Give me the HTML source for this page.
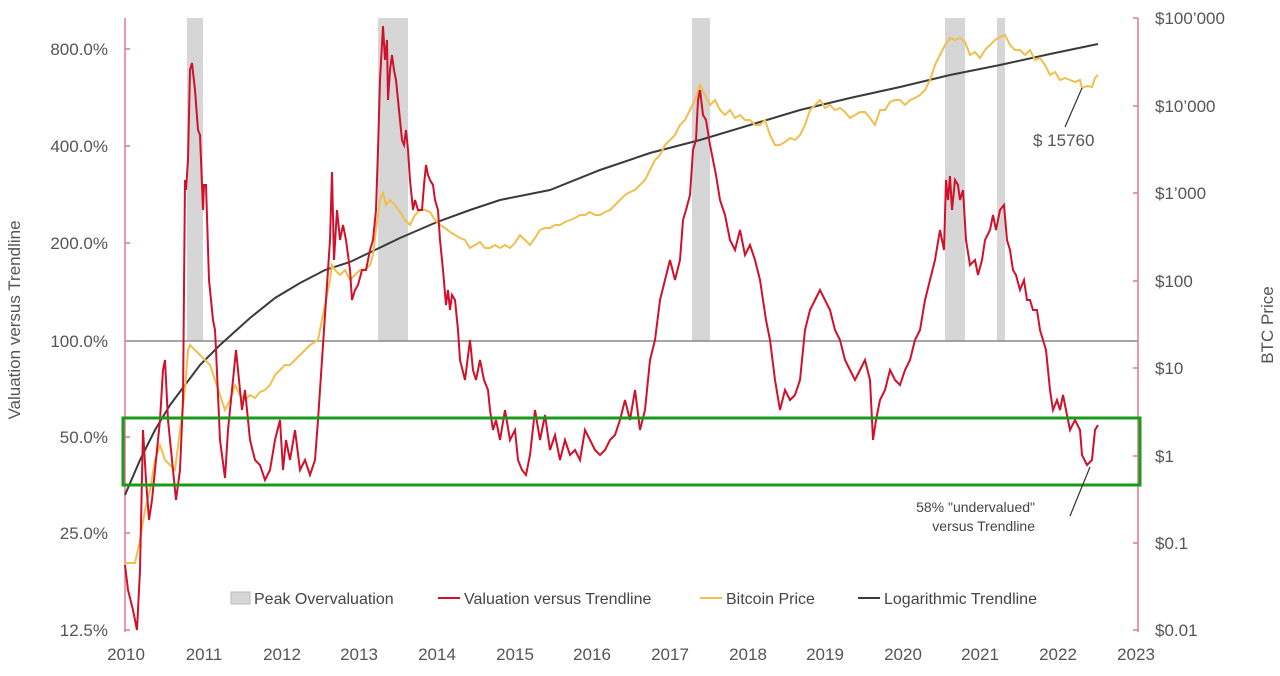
<!DOCTYPE html>
<html><head><meta charset="utf-8"><style>
body{margin:0;background:#fff}
svg{display:block;font-family:"Liberation Sans",sans-serif}
.t{fill:#555;font-size:17px}
.l{fill:#444;font-size:16px}
</style></head><body>
<svg width="1280" height="676" viewBox="0 0 1280 676">
<g fill="#d6d6d6">
<rect x="187" y="18" width="16" height="323"/>
<rect x="378" y="18" width="30" height="323"/>
<rect x="692" y="18" width="18" height="323"/>
<rect x="945" y="18" width="20" height="323"/>
<rect x="997" y="18" width="8" height="323"/>
</g>
<line x1="125" y1="341" x2="1138" y2="341" stroke="#888" stroke-width="1.5"/>
<g stroke="#e4788f" stroke-width="1.5">
<line x1="125" y1="18" x2="125" y2="632"/>
<line x1="1138" y1="18" x2="1138" y2="632"/>
<line x1="125" y1="49" x2="130" y2="49"/><line x1="125" y1="146" x2="130" y2="146"/><line x1="125" y1="243" x2="130" y2="243"/><line x1="125" y1="341" x2="130" y2="341"/><line x1="125" y1="437" x2="130" y2="437"/><line x1="125" y1="533" x2="130" y2="533"/><line x1="125" y1="630" x2="130" y2="630"/>
<line x1="1133" y1="18" x2="1138" y2="18"/><line x1="1133" y1="106" x2="1138" y2="106"/><line x1="1133" y1="193" x2="1138" y2="193"/><line x1="1133" y1="281" x2="1138" y2="281"/><line x1="1133" y1="368" x2="1138" y2="368"/><line x1="1133" y1="456" x2="1138" y2="456"/><line x1="1133" y1="543" x2="1138" y2="543"/><line x1="1133" y1="630" x2="1138" y2="630"/>
</g>
<g class="t" text-anchor="end">
<text x="108" y="55">800.0%</text><text x="108" y="152">400.0%</text><text x="108" y="249">200.0%</text><text x="108" y="347">100.0%</text><text x="108" y="443">50.0%</text><text x="108" y="539">25.0%</text><text x="108" y="636">12.5%</text>
</g>
<g class="t">
<text x="1155" y="24">$100’000</text><text x="1155" y="112">$10’000</text><text x="1155" y="199">$1’000</text><text x="1155" y="287">$100</text><text x="1155" y="374">$10</text><text x="1155" y="462">$1</text><text x="1155" y="549">$0.1</text><text x="1155" y="636">$0.01</text>
</g>
<g class="t" text-anchor="middle">
<text x="126" y="660">2010</text><text x="204" y="660">2011</text><text x="282" y="660">2012</text><text x="359" y="660">2013</text><text x="437" y="660">2014</text><text x="515" y="660">2015</text><text x="592" y="660">2016</text><text x="670" y="660">2017</text><text x="748" y="660">2018</text><text x="825" y="660">2019</text><text x="903" y="660">2020</text><text x="980" y="660">2021</text><text x="1058" y="660">2022</text><text x="1136" y="660">2023</text>
</g>
<text class="t" transform="translate(20,320) rotate(-90)" text-anchor="middle">Valuation versus Trendline</text>
<text class="t" transform="translate(1273,325) rotate(-90)" text-anchor="middle">BTC Price</text>
<polyline fill="none" stroke="#3a3a3a" stroke-width="2" points="125,495 140,460 155,430 170,405 185,385 200,365 220,345 250,318 275,298 300,283 325,270 350,262 375,250 400,238 437,222 470,210 500,200 550,190 600,170 650,153 700,140 750,125 800,110 850,98 900,87 950,75 1000,65 1050,54 1098,44"/>
<polyline fill="none" stroke="#efbf4f" stroke-width="2" points="125,563 135,563 140,540 145,510 150,490 155,460 160,445 165,460 170,465 175,470 180,430 185,390 188,350 190,345 195,350 200,355 205,360 210,365 215,380 220,395 225,410 230,400 235,385 240,395 245,400 250,395 255,398 260,392 265,390 270,385 275,375 280,370 285,365 290,365 300,355 310,345 318,340 322,320 326,300 330,280 332,265 335,270 340,275 345,270 350,280 355,275 360,270 365,270 370,265 373,255 376,230 380,200 383,193 386,205 390,200 395,205 400,212 405,220 410,225 415,215 420,210 425,210 430,212 435,220 440,225 445,228 450,232 455,235 460,238 465,240 470,248 475,245 480,242 485,248 490,248 495,245 500,248 505,245 510,248 515,243 520,235 525,240 530,245 535,238 540,230 545,228 550,228 555,225 560,225 565,222 570,220 575,218 580,215 585,215 590,212 595,215 600,215 605,212 610,210 615,205 620,200 625,195 630,192 635,190 640,185 645,180 650,170 655,160 660,155 665,145 670,140 675,135 680,125 685,120 690,110 695,100 700,85 705,95 710,105 715,100 720,110 725,115 730,110 735,118 740,115 745,120 750,120 755,125 760,125 765,120 770,135 775,145 780,145 785,142 790,138 795,140 800,135 805,125 810,110 815,105 820,100 825,108 830,105 835,110 840,108 845,112 850,118 855,115 860,112 865,112 870,118 875,125 880,110 885,110 890,102 895,100 900,100 905,105 910,100 915,98 920,95 925,90 930,80 935,65 940,55 945,45 950,38 955,40 960,38 965,42 970,55 975,52 980,58 985,50 990,45 995,40 1000,37 1005,35 1010,45 1015,50 1020,50 1025,55 1030,50 1035,60 1040,58 1045,65 1050,75 1055,72 1060,80 1065,78 1070,80 1075,82 1080,80 1082,88 1087,86 1092,87 1095,78 1098,75"/>
<polyline fill="none" stroke="#d0112b" stroke-width="2" points="125,565 128,590 133,610 137,630 140,570 143,430 146,480 149,520 152,500 156,460 160,420 163,370 165,360 168,420 172,460 176,500 180,470 183,400 185,180 186,190 188,160 190,70 192,63 195,90 198,130 200,135 203,210 204,185 206,185 209,280 212,310 213,320 215,330 216,350 220,440 225,478 228,430 233,380 236,350 238,370 242,410 245,390 250,440 255,460 260,465 265,480 270,470 275,440 280,420 283,470 286,440 290,460 295,430 300,470 305,460 310,475 315,460 318,420 322,360 326,300 330,240 332,172 334,260 337,210 340,240 343,225 346,240 350,270 352,300 355,290 358,285 362,270 366,270 370,250 373,240 376,210 378,150 380,80 383,26 385,60 387,40 388,100 390,70 392,55 394,70 396,80 398,100 400,120 402,140 404,145 406,130 408,150 410,180 413,210 415,200 418,210 422,210 424,185 426,165 428,175 430,180 433,185 435,200 438,210 440,240 443,270 446,305 448,290 450,310 452,295 455,300 458,330 460,360 465,380 470,340 473,370 476,380 480,360 484,380 488,390 490,410 493,430 496,420 500,440 505,410 510,440 515,430 518,460 522,470 526,475 530,455 535,410 540,440 545,415 550,450 555,435 560,460 565,440 570,455 575,450 580,460 585,430 590,440 595,450 600,455 605,450 610,440 615,435 620,420 625,400 630,420 635,390 640,430 645,410 650,360 655,340 660,300 665,280 670,260 675,280 680,260 683,220 686,210 690,195 693,150 696,140 698,100 700,90 703,115 706,120 710,145 713,160 716,175 720,200 725,215 730,240 735,250 740,230 745,255 750,245 755,260 760,280 763,300 766,320 770,340 775,380 780,410 785,390 790,400 795,395 800,380 805,330 810,310 815,300 820,290 825,300 830,310 835,330 840,340 845,360 850,370 855,380 860,370 865,360 870,380 873,440 876,420 880,400 885,390 890,370 895,380 900,385 905,370 910,360 915,340 920,330 925,300 930,280 935,260 940,230 944,250 946,180 948,200 950,176 952,210 955,180 958,185 960,200 963,190 966,240 970,265 975,260 978,275 982,260 985,240 990,230 993,215 996,230 1000,210 1004,205 1007,240 1010,250 1013,270 1016,275 1020,290 1024,280 1027,300 1030,300 1033,310 1037,310 1040,330 1043,340 1046,350 1050,390 1053,410 1057,400 1060,410 1063,395 1066,410 1070,430 1075,420 1080,430 1082,455 1087,465 1092,460 1095,430 1098,425"/>
<rect x="123" y="418" width="1017" height="67" fill="none" stroke="#1a9a1a" stroke-width="3"/>
<line x1="1082" y1="88" x2="1065" y2="127" stroke="#333" stroke-width="1.2"/>
<text class="t" x="1033" y="146">$ 15760</text>
<line x1="1090" y1="467" x2="1070" y2="516" stroke="#333" stroke-width="1.2"/>
<text x="1035" y="512" text-anchor="end" fill="#444" font-size="14">58% "undervalued"</text>
<text x="1035" y="531" text-anchor="end" fill="#444" font-size="14">versus Trendline</text>
<rect x="231" y="592" width="19" height="12" fill="#d6d6d6" stroke="#bbb"/>
<text class="l" x="254" y="604">Peak Overvaluation</text>
<line x1="438" y1="598" x2="460" y2="598" stroke="#d0112b" stroke-width="2"/>
<text class="l" x="464" y="604">Valuation versus Trendline</text>
<line x1="700" y1="598" x2="722" y2="598" stroke="#efbf4f" stroke-width="2"/>
<text class="l" x="726" y="604">Bitcoin Price</text>
<line x1="858" y1="598" x2="880" y2="598" stroke="#3a3a3a" stroke-width="2"/>
<text class="l" x="884" y="604">Logarithmic Trendline</text>
</svg>
</body></html>
